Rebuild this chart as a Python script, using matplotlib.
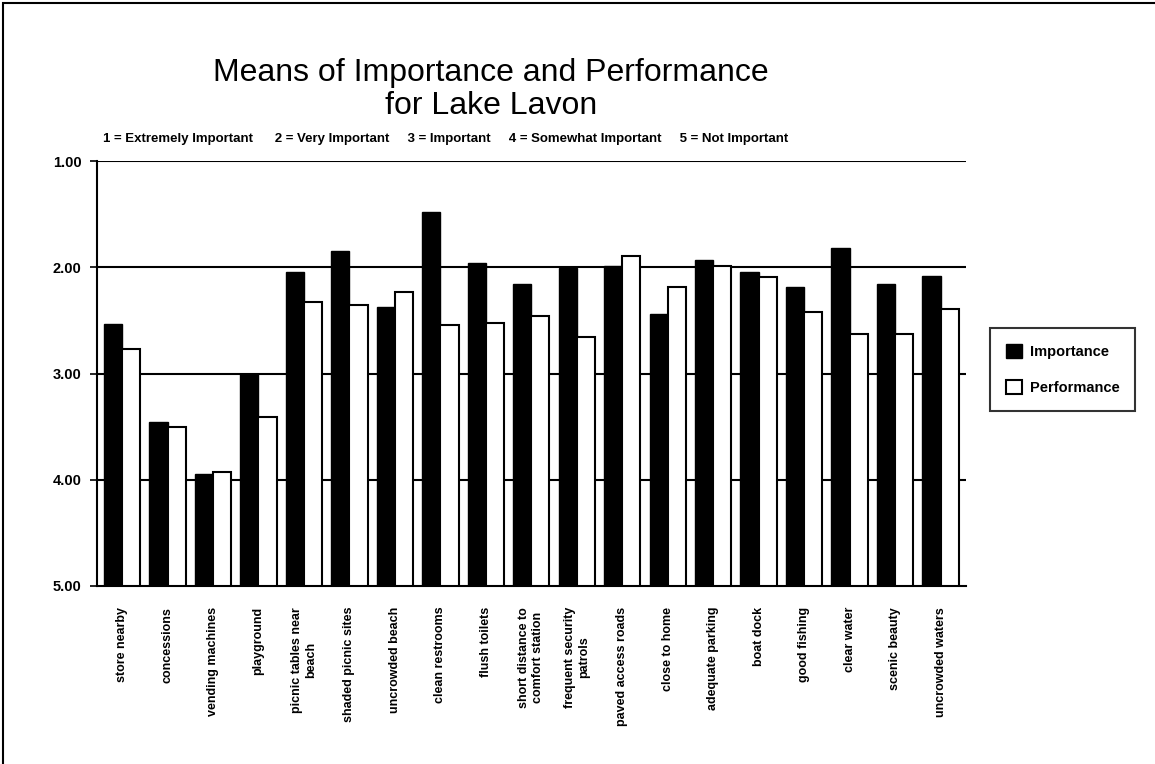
import numpy as np
import matplotlib
matplotlib.use("Agg")
import matplotlib.pyplot as plt
from matplotlib.patches import Rectangle

plt.rcParams['font.family'] = ['Liberation Sans', 'DejaVu Sans']

attributes = ["store nearby", "concessions", "vending machines", "playground",
              "picnic tables near\nbeach", "shaded picnic sites", "uncrowded beach",
              "clean restrooms", "flush toilets", "short distance to\ncomfort station",
              "frequent security\npatrols", "paved access roads", "close to home",
              "adequate parking", "boat dock", "good fishing", "clear water",
              "scenic beauty", "uncrowded waters"]
importance = [2.53, 3.46, 3.95, 3.00, 2.04, 1.85, 2.37, 1.48, 1.96, 2.16,
              2.01, 1.99, 2.44, 1.93, 2.04, 2.18, 1.82, 2.16, 2.08]
performance = [2.77, 3.50, 3.93, 3.41, 2.33, 2.35, 2.23, 2.54, 2.52, 2.46,
               2.66, 1.89, 2.18, 1.99, 2.09, 2.42, 2.63, 2.63, 2.39]
yticks = [1.0, 2.0, 3.0, 4.0, 5.0]

fig = plt.figure(figsize=(11.55, 7.64), dpi=100)
ax = fig.add_axes([0.084, 0.233, 0.752, 0.556])

x = np.arange(len(attributes))
w = 0.4
imp = [v - 5 for v in importance]
perf = [v - 5 for v in performance]
ax.bar(x - w / 2, imp, w, bottom=5, color="black", edgecolor="black",
       linewidth=1, label="Importance", zorder=3)
ax.bar(x + w / 2, perf, w, bottom=5, color="white", edgecolor="black",
       linewidth=1.5, label="Performance", zorder=3)

ax.set_ylim(5, 1)
ax.set_xlim(-0.55, len(attributes) - 0.45)
ax.set_yticks(yticks)
ax.set_yticklabels(["%.2f" % t for t in yticks], fontsize=10.5, fontweight="bold")
for t in yticks[:-1]:
    ax.axhline(t, color="black", linewidth=1.5, zorder=1)

ax.set_xticks(x)
ax.set_xticklabels(attributes, rotation=90, fontsize=9, fontweight="bold",
                   va="top", ha="center", linespacing=1.25)
ax.tick_params(axis="x", length=0, pad=15)
ax.tick_params(axis="y", length=5, width=1.2, direction="out", pad=6)

ax.spines["top"].set_visible(False)
ax.spines["right"].set_visible(False)
ax.spines["left"].set_linewidth(1.5)
ax.spines["bottom"].set_linewidth(1.5)

fig.text(0.425, 0.883, "Means of Importance and Performance\nfor Lake Lavon",
         ha="center", va="center", fontsize=23, linespacing=1.1)
fig.text(0.089, 0.818,
         "1 = Extremely Important      2 = Very Important     3 = Important     "
         "4 = Somewhat Important     5 = Not Important",
         ha="left", va="center", fontsize=9.5, fontweight="bold")

leg = ax.legend(loc="center left", bbox_to_anchor=(1.02, 0.51), frameon=True,
                fancybox=False, edgecolor="black",
                prop={"weight": "bold", "size": 10.5}, handlelength=1.1,
                handleheight=1.1, labelspacing=1.4, borderpad=1.1,
                handletextpad=0.5)
leg.get_frame().set_linewidth(1.5)

fig.patches.append(Rectangle((0.003, -0.01), 1.2, 1.006, transform=fig.transFigure,
                             fill=False, edgecolor="black", linewidth=1.5))

fig.savefig("out.png", dpi=100)
